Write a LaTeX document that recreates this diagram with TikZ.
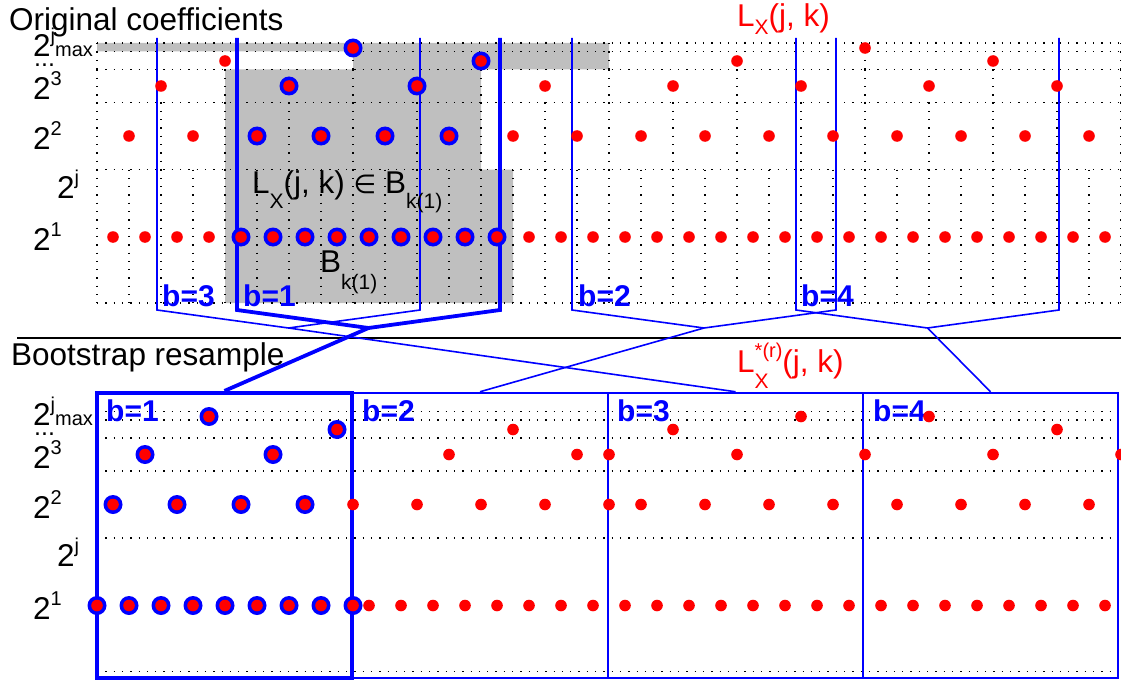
\documentclass[tikz,border=0pt]{standalone}
\usepackage{fontspec}
\setmainfont{Liberation Sans}
\newfontfamily\symfont{DejaVu Sans}
\usetikzlibrary{positioning, calc}
\definecolor{suppgray}{gray}{0.75}
\newcommand{\hi}[2][14pt]{\raisebox{#1}{\fontsize{20}{20}\selectfont #2}}
\newcommand{\lo}[2][-9pt]{\raisebox{#1}{\fontsize{21}{21}\selectfont #2}}

\begin{document}
\begin{tikzpicture}[
        x=1pt, y=-1pt, font=\fontsize{31.5}{36}\selectfont,
        lbl/.style={inner sep=0pt, anchor=base west},
        blab/.style={lbl, text=blue, font=\fontsize{30}{36}\selectfont\bfseries},
        dotgrid/.style={line width=1.3pt, dash pattern=on 1.3pt off 7pt},
        blk/.style={blue, line width=1.6pt},
        blkb/.style={blue, line width=3.8pt},
        box/.style={draw=blue, line width=2.5pt, minimum height=285pt, inner sep=0pt},
        pt/.style={red},
        ring/.style={blue}
    ]
    \useasboundingbox (0,0) rectangle (1121,682);

    % support of B_k(1)
    \fill[suppgray] (97,43) -- (609,43) -- (609,69.5) -- (481,69.5) -- (481,169.5) -- (513,169.5)
        -- (513,303) -- (225,303) -- (225,69.5) -- (353,69.5) -- (353,51.5) -- (97,51.5) -- cycle;

    % dotted grids
    \foreach \y in {43,51.5,69.5,102.5,169.5,303} {
        \draw[dotgrid] (97,\y) -- (1121,\y);
        \draw[dotgrid] (97,\y+368.5) -- (1121,\y+368.5);
    }
    \foreach \ya/\yb/\s/\n in {169.5/303/32/32, 102.5/169.5/64/16, 69.5/102.5/128/8, 51.5/69.5/256/4, 43/51.5/512/2}
        \foreach \m in {0,...,\n}
            \draw[dotgrid] ({97+\s*\m},\ya) -- ({97+\s*\m},\yb);

    \draw[line width=1.5pt] (17,338) -- (1121,338);

    % resampled blocks
    \node[box, minimum width=256pt] (box2) at (480,535.5) {};
    \node[box, minimum width=255pt] (box3) at (735.5,535.5) {};
    \node[box, minimum width=255pt] (box4) at (990.5,535.5) {};
    \node[box, line width=4.2pt, minimum width=255pt] (box1) at (224.5,535.5) {};

    % blocks of the original
    \draw[blk] (157,38) -- (157,310) -- (288.5,328) coordinate (a3) -- (420,310) -- (420,38);
    \draw[blk] (572,38) -- (572,310) -- (704,328) coordinate (a2) -- (836,310) -- (836,38);
    \draw[blk] (796,38) -- (796,310) -- (927.5,328) coordinate (a4) -- (1059,310) -- (1059,38);
    \draw[blkb] (237,38) -- (237,310) -- (368.5,328) coordinate (a1) -- (500,310) -- (500,38);
    \draw[blk] (a3) -- (box3.north);
    \draw[blk] (a2) -- (box2.north);
    \draw[blk] (a4) -- (box4.north);
    \draw[blkb] (a1) -- (box1.north);

    % titles
    \node[lbl] (orig) at (9,31) {Original coefficients};
    \node[lbl] (boot) at (11,365) {Bootstrap resample};
    \node[lbl, text=red] (lx) at (737,27) {L\lo[-8pt]{X}(j, k)};
    \node[lbl, text=red] (lxs) at (737,372) {L\rlap{\lo[-16pt]{X}}\hi[15pt]{*(r)}(j, k)};
    \node[lbl] (lxin) at (252,193) {L\lo[-15pt]{X}(j, k) {\symfont\fontsize{26}{30}\selectfont ∈} B\lo[-15pt]{k(1)}};
    \node[lbl] (bk) at (320,272) {B\lo[-17pt]{k(1)}};

    % scales
    \foreach \dy/\t in {0/t,368.5/b} {
        \node[lbl] (jmax\t) at (33,57+\dy) {2\hi{j}{\fontsize{20}{20}\selectfont max}};
        \node[lbl, font=\fontsize{25}{25}\selectfont] (dots\t) at (34,67+\dy) {...};
        \node[lbl] (three\t) at (33,100+\dy) {2\hi{3}};
        \node[lbl] (two\t) at (33,149.5+\dy) {2\hi{2}};
        \node[lbl] (jay\t) at (57,198+\dy) {2\hi{j}};
        \node[lbl] (one\t) at (33,250.5+\dy) {2\hi{1}};
    }

    % block labels
    \node[blab] (lb3) at (162,306) {b=3};
    \node[blab] (lb1) at (243,306) {b=1};
    \node[blab] (lb2) at (578,306) {b=2};
    \node[blab] (lb4) at (801,306) {b=4};
    \node[blab] (rb1) at (106,421) {b=1};
    \node[blab] (rb2) at (362,421) {b=2};
    \node[blab] (rb3) at (617,421) {b=3};
    \node[blab] (rb4) at (873,421) {b=4};

    % coefficients of the original
    \foreach \x/\y in {257/136,321/136,385/136,449/136,289/86,417/86,481/61,353/48}
        \fill[ring] (\x,\y) circle (9.5);
    \foreach \m in {4,...,12}
        \fill[ring] ({113+32*\m},237) circle (9.5);
    \foreach \y/\s/\n in {237/32/31, 136/64/15, 86/128/7, 61/256/3, 48/512/1}
        \foreach \m in {0,...,\n}
            \fill[pt] ({97+\s*(\m+0.5)},\y) circle (5.8);

    % coefficients of the resample
    \foreach \y/\lst in {605.5/{0,1,2,3,4,5,6,7,8}, 504.5/{0.5,2.5,4.5,6.5}, 454.5/{1.5,5.5}, 429.5/{7.5}, 416.5/{3.5}}
        \foreach \u in \lst
            \fill[ring] ({97+32*\u},\y) circle (9.5);
    \foreach \m in {0,...,8}
        \fill[pt] ({97+32*\m},605.5) circle (5.8);
    \foreach \m in {8,...,31}
        \fill[pt] ({97+32*(\m+0.5)},605.5) circle (5.8);
    \foreach \y/\lst in {504.5/{0.5,2.5,4.5,6.5,8,10,12,14,16,17,19,21,23,25,27,29,31},
                         454.5/{1.5,5.5,11,15,16,20,24,28,32}, 429.5/{7.5,13,18,30}, 416.5/{3.5,22,26}}
        \foreach \u in \lst
            \fill[pt] ({97+32*\u},\y) circle (5.8);
\end{tikzpicture}
\end{document}
